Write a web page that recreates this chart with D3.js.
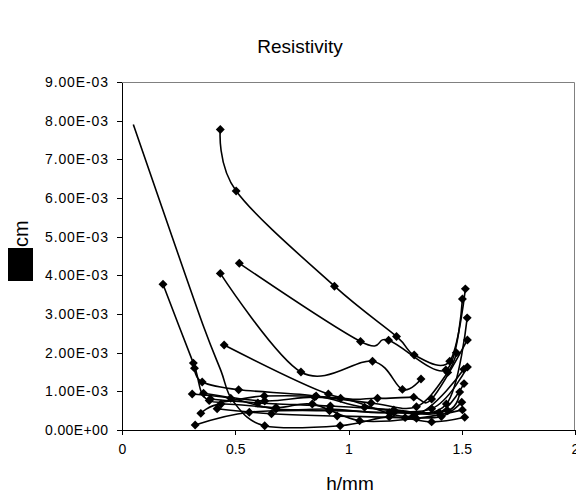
<!DOCTYPE html>
<html lang="en">
<head>
  <meta charset="UTF-8">
  <title>Resistivity</title>
  <script src="https://d3js.org/d3.v7.min.js"></script>
  <style>
    body { margin: 0; background: #fff; }
    text { font-family: "Liberation Sans", Arial, sans-serif; fill: #000; }
    .axis path, .axis line { stroke: #000; shape-rendering: crispEdges; }
    .axis text { font-size: 14px; }
    .serie { fill: none; stroke: #000; stroke-width: 1.6; }
  </style>
</head>
<body>
  <div id="chart"></div>
  <script>
    // values: [h in mm, resistivity in ohm*cm]
    var series1 = [[0.05, 7.9e-3], [0.23, 4.85e-3], [0.363, 2.63e-3], [0.437, 1.53e-3], [0.49, 0.75e-3],
                   [0.63, 0.11e-3], [0.963, 0.11e-3], [1.18, 0.34e-3], [1.367, 0.21e-3], [1.513, 0.33e-3]];
    var series2 = [[0.434, 7.77e-3], [0.504, 6.18e-3], [0.938, 3.72e-3], [1.212, 2.42e-3], [1.29, 1.94e-3],
                   [1.447, 1.78e-3], [1.516, 3.65e-3]];
    var series3 = [[0.518, 4.31e-3], [1.053, 2.29e-3], [1.177, 2.32e-3], [1.43, 1.55e-3], [1.503, 3.39e-3]];
    var series4 = [[0.434, 4.05e-3], [0.79, 1.5e-3], [1.106, 1.78e-3], [1.238, 1.05e-3], [1.32, 1.32e-3]];
    var series5 = [[0.451, 2.2e-3], [0.911, 0.93e-3], [1.128, 0.82e-3], [1.288, 0.85e-3], [1.367, 0.8e-3],
                   [1.525, 2.33e-3]];
    var series6 = [[0.181, 3.77e-3], [0.315, 1.73e-3], [0.385, 0.76e-3], [0.628, 0.88e-3], [0.965, 0.82e-3],
                   [1.288, 0.37e-3], [1.509, 1.57e-3]];
    var series7 = [[0.32, 1.6e-3], [0.354, 1.24e-3], [0.515, 1.04e-3], [0.857, 0.88e-3], [1.071, 0.59e-3],
                   [1.367, 0.55e-3], [1.525, 1.63e-3]];
    var series8 = [[0.31, 0.93e-3], [0.48, 0.82e-3], [0.68, 0.54e-3], [0.916, 0.54e-3], [1.18, 0.45e-3],
                   [1.432, 0.67e-3], [1.524, 2.9e-3]];
    var series9 = [[0.348, 0.43e-3], [0.437, 0.67e-3], [0.68, 0.58e-3], [0.84, 0.67e-3], [1.049, 0.24e-3],
                   [1.3, 0.3e-3], [1.503, 0.52e-3]];
    var series10 = [[0.323, 0.13e-3], [0.562, 0.46e-3], [0.916, 0.5e-3], [1.2, 0.45e-3], [1.438, 0.5e-3],
                    [1.491, 0.98e-3]];
    var series11 = [[0.36, 0.95e-3], [0.63, 0.75e-3], [0.85, 0.85e-3], [1.1, 0.7e-3], [1.3, 0.6e-3],
                    [1.438, 1.49e-3], [1.476, 2.0e-3]];
    var series12 = [[0.39, 0.8e-3], [0.6, 0.7e-3], [0.92, 0.62e-3], [1.2, 0.52e-3], [1.4, 0.45e-3],
                    [1.51, 1.2e-3]];
    var series13 = [[0.42, 0.55e-3], [0.66, 0.42e-3], [0.95, 0.36e-3], [1.25, 0.32e-3], [1.41, 0.35e-3],
                    [1.5, 0.72e-3]];
    var allSeries = [series1, series2, series3, series4, series5, series6, series7, series8, series9,
                     series10, series11, series12, series13];
    // first series: leading points drawn without markers
    var hiddenMarkers = [5, 0, 0, 0, 0, 0, 0, 0, 0, 0, 0, 0, 0];

    var xTicks = [0, 0.5, 1, 1.5, 2];
    var xTickLabels = ["0", "0.5", "1", "1.5", "2"];
    var yTicks = [0, 1e-3, 2e-3, 3e-3, 4e-3, 5e-3, 6e-3, 7e-3, 8e-3, 9e-3];
    var yTickLabels = ["0.00E+00", "1.00E-03", "2.00E-03", "3.00E-03", "4.00E-03",
                       "5.00E-03", "6.00E-03", "7.00E-03", "8.00E-03", "9.00E-03"];

    var W = 576, H = 494;
    var plotLeft = 122, plotRight = 575, plotTop = 82, plotBottom = 430;

    var svg = d3.select("#chart").append("svg")
      .attr("width", W)
      .attr("height", H);

    var x = d3.scaleLinear().domain([0, 2]).range([plotLeft, plotRight]);
    var y = d3.scaleLinear().domain([0, 9e-3]).range([plotBottom, plotTop]);

    // plot area frame (grey top / right)
    svg.append("path")
      .attr("d", "M" + plotLeft + "," + (plotTop + 0.5) + "H" + (plotRight - 0.5) + "V" + plotBottom)
      .attr("fill", "none")
      .attr("stroke", "#808080")
      .attr("stroke-width", 1);

    var yAxis = d3.axisLeft(y)
      .tickValues(yTicks)
      .tickFormat(function (d, i) { return yTickLabels[i]; })
      .tickSizeInner(5)
      .tickSizeOuter(0)
      .tickPadding(9);

    var xAxis = d3.axisBottom(x)
      .tickValues(xTicks)
      .tickFormat(function (d, i) { return xTickLabels[i]; })
      .tickSizeInner(5)
      .tickSizeOuter(0)
      .tickPadding(9);

    var gy = svg.append("g")
      .attr("class", "axis")
      .attr("transform", "translate(" + plotLeft + ",0)")
      .call(yAxis)
      .attr("font-family", null)
      .attr("font-size", null);
    // the original labels are set a little wider than plain Arial
    gy.selectAll("text")
      .attr("textLength", 63)
      .attr("lengthAdjust", "spacing");

    var gx = svg.append("g")
      .attr("class", "axis")
      .attr("transform", "translate(0," + plotBottom + ")")
      .call(xAxis)
      .attr("font-family", null)
      .attr("font-size", null);

    var line = d3.line()
      .x(function (d) { return x(d[0]); })
      .y(function (d) { return y(d[1]); })
      .curve(d3.curveCatmullRom.alpha(0));

    svg.selectAll(".serie")
      .data(allSeries)
      .enter().append("path")
      .attr("class", "serie")
      .attr("d", line);

    var diamond = d3.symbol().type(d3.symbolSquare).size(40);

    allSeries.forEach(function (s, k) {
      svg.selectAll(".m" + k)
        .data(s.slice(hiddenMarkers[k]))
        .enter().append("path")
        .attr("class", "m" + k)
        .attr("d", diamond)
        .attr("fill", "#000")
        .attr("transform", function (d) {
          return "translate(" + x(d[0]) + "," + y(d[1]) + ") rotate(45)";
        });
    });

    // titles
    svg.append("text")
      .attr("x", 300)
      .attr("y", 53)
      .attr("text-anchor", "middle")
      .style("font-size", "19px")
      .text("Resistivity");

    svg.append("text")
      .attr("x", 350)
      .attr("y", 490)
      .attr("text-anchor", "middle")
      .style("font-size", "19px")
      .text("h/mm");

    // y title: the omega sign shows up as a solid block in the original
    svg.append("rect")
      .attr("x", 8)
      .attr("y", 248)
      .attr("width", 25)
      .attr("height", 33)
      .attr("fill", "#000");
    svg.append("text")
      .attr("transform", "translate(28,247) rotate(-90)")
      .attr("text-anchor", "start")
      .style("font-size", "20px")
      .text("cm");
  </script>
</body>
</html>
